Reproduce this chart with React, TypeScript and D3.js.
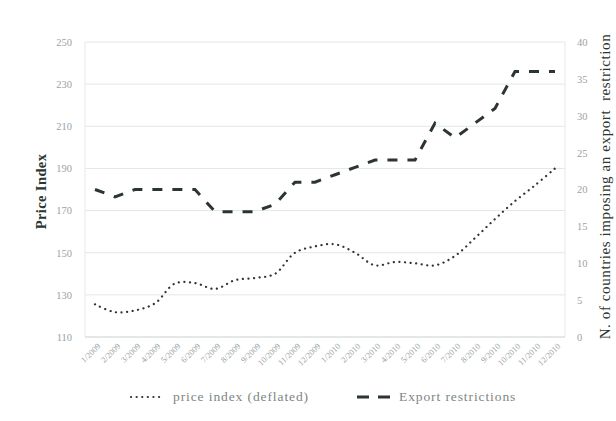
import React, { useEffect, useRef } from 'react'
import * as d3 from 'd3'

const months = [
  '1/2009', '2/2009', '3/2009', '4/2009', '5/2009', '6/2009', '7/2009', '8/2009',
  '9/2009', '10/2009', '11/2009', '12/2009', '1/2010', '2/2010', '3/2010', '4/2010',
  '5/2010', '6/2010', '7/2010', '8/2010', '9/2010', '10/2010', '11/2010', '12/2010',
]
const priceIndex = [
  125.5, 121.8, 122.6, 126, 135.4, 135.6, 132.8, 137, 138, 140, 150, 153,
  154, 150, 144, 145.6, 145, 144, 148.5, 157, 166, 174.5, 182, 190,
]
const exportRestrictions = [
  20, 19, 20, 20, 20, 20, 17, 17, 17, 18, 21, 21,
  22, 23, 24, 24, 24, 29, 27, 29, 31, 36, 36, 36,
]
const leftTicks = [110, 130, 150, 170, 190, 210, 230, 250]
const rightTicks = [0, 5, 10, 15, 20, 25, 30, 35, 40]

export default function App() {
  const svgRef = useRef<SVGSVGElement>(null)

  useEffect(() => {
    if (!svgRef.current) return
    const root = d3.select(svgRef.current)
    root.selectAll('*').remove()

    const margin = { top: 42, right: 51, bottom: 84, left: 85 }
    const width = 616
    const height = 421
    const innerW = width - margin.left - margin.right
    const innerH = height - margin.top - margin.bottom
    const font = "'Liberation Serif', 'DejaVu Serif', serif"
    const ink = '#2b3531'
    const tickColor = '#9aa39f'

    const svg = root.append('g').attr('transform', `translate(${margin.left},${margin.top})`)

    const x = d3.scaleBand().domain(months).range([0, innerW])
    const yL = d3.scaleLinear().domain([110, 250]).range([innerH, 0])
    const yR = d3.scaleLinear().domain([0, 40]).range([innerH, 0])
    const cx = (m: string) => (x(m) || 0) + x.bandwidth() / 2

    // gridlines
    svg
      .selectAll('.grid')
      .data(leftTicks)
      .join('line')
      .attr('x1', 0)
      .attr('x2', innerW)
      .attr('y1', (d) => yL(d))
      .attr('y2', (d) => yL(d))
      .attr('stroke', '#e2e8e5')
      .attr('stroke-width', 1)

    // plot frame sides
    svg.append('line').attr('x1', 0).attr('x2', 0).attr('y1', 0).attr('y2', innerH)
      .attr('stroke', '#e6ebe8')
    svg.append('line').attr('x1', innerW).attr('x2', innerW).attr('y1', 0).attr('y2', innerH)
      .attr('stroke', '#e6ebe8')
    svg.append('line').attr('x1', 0).attr('x2', innerW).attr('y1', innerH).attr('y2', innerH)
      .attr('stroke', '#d6dcd9')

    // left axis
    const gl = svg.append('g').call(d3.axisLeft(yL).tickValues(leftTicks).tickSize(0).tickPadding(13))
    gl.select('.domain').remove()
    gl.selectAll('text').attr('fill', tickColor).style('font-family', font).style('font-size', '10.5px')

    // right axis
    const gr = svg
      .append('g')
      .attr('transform', `translate(${innerW},0)`)
      .call(d3.axisRight(yR).tickValues(rightTicks).tickSize(0).tickPadding(12))
    gr.select('.domain').remove()
    gr.selectAll('text').attr('fill', tickColor).style('font-family', font).style('font-size', '10.5px')

    // x axis
    const gx = svg
      .append('g')
      .attr('transform', `translate(0,${innerH})`)
      .call(d3.axisBottom(x).tickSize(0).tickPadding(6))
    gx.select('.domain').remove()
    gx.selectAll('text')
      .attr('fill', tickColor)
      .style('font-family', font)
      .style('font-size', '8.5px')
      .attr('transform', 'rotate(-45)')
      .attr('dx', '-0.3em')
      .attr('dy', '0.6em')
      .style('text-anchor', 'end')

    // lines
    const priceLine = d3
      .line<number>()
      .x((_, i) => cx(months[i]))
      .y((d) => yL(d))
      .curve(d3.curveCatmullRom)
    const exportLine = d3
      .line<number>()
      .x((_, i) => cx(months[i]))
      .y((d) => yR(d))

    svg.append('path')
      .attr('d', priceLine(priceIndex))
      .attr('fill', 'none')
      .attr('stroke', ink)
      .attr('stroke-width', 2.2)
      .attr('stroke-linecap', 'round')
      .attr('stroke-dasharray', '0.1 5.5')

    svg.append('path')
      .attr('d', exportLine(exportRestrictions))
      .attr('fill', 'none')
      .attr('stroke', ink)
      .attr('stroke-width', 3)
      .attr('stroke-dasharray', '10 10')

    // axis titles
    root.append('text')
      .attr('transform', `translate(46,${margin.top + innerH / 2 + 2}) rotate(-90)`)
      .attr('text-anchor', 'middle')
      .style('font-family', font)
      .style('font-size', '14.5px')
      .style('font-weight', 'bold')
      .style('letter-spacing', '0.4px')
      .attr('fill', ink)
      .text('Price Index')

    root.append('text')
      .attr('transform', `translate(610,${margin.top + innerH / 2 - 3}) rotate(-90)`)
      .attr('text-anchor', 'middle')
      .style('font-family', font)
      .style('font-size', '15px')
      .style('letter-spacing', '0.6px')
      .attr('fill', ink)
      .attr('xml:space', 'preserve')
      .text('N. of countries imposing an export  restriction')

    // legend
    const lg = root.append('g').attr('transform', 'translate(0,397)')
    lg.append('line').attr('x1', 131).attr('x2', 162).attr('y1', 0).attr('y2', 0)
      .attr('stroke', ink).attr('stroke-width', 2.2).attr('stroke-linecap', 'round')
      .attr('stroke-dasharray', '0.1 5.5')
    lg.append('text').attr('x', 173).attr('y', 4).style('font-family', font).style('font-size', '13.5px')
      .style('letter-spacing', '0.9px')
      .attr('fill', '#7d8683').text('price index (deflated)')
    lg.append('line').attr('x1', 357).attr('x2', 393).attr('y1', 0).attr('y2', 0)
      .attr('stroke', ink).attr('stroke-width', 3).attr('stroke-dasharray', '12 9')
    lg.append('text').attr('x', 399).attr('y', 4).style('font-family', font).style('font-size', '13.5px')
      .style('letter-spacing', '0.9px')
      .attr('fill', '#7d8683').text('Export restrictions')
  }, [])

  return (
    <div style={{ position: 'absolute', left: 0, top: 0 }}>
      <svg ref={svgRef} width={616} height={421} style={{ display: 'block', background: '#fff' }}></svg>
    </div>
  )
}
